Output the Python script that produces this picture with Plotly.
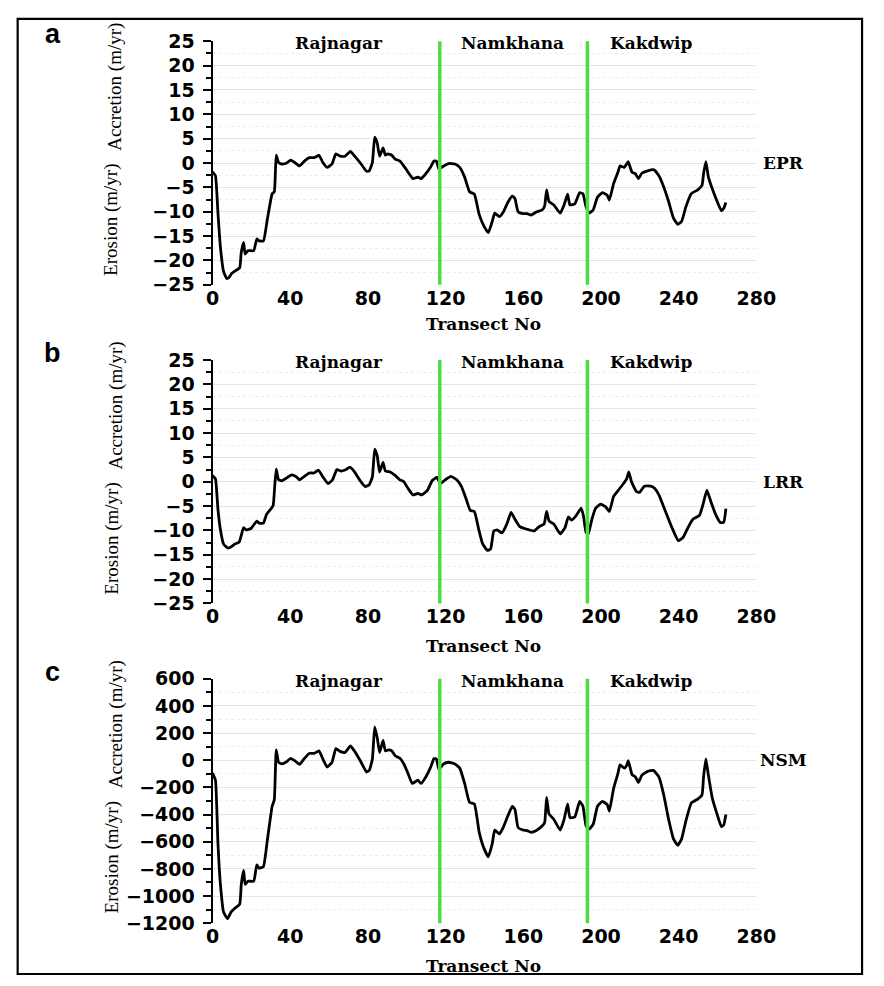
import plotly.graph_objects as go

# ---------------- data ----------------
epr_x = [0, 1.5, 2.8, 4, 5.7, 7.3, 8.5, 9.8, 12.3, 14, 14.8, 16, 16.8, 18.2, 21.2, 22.8, 24, 26.2, 28.2,
         30.7, 31.8, 32.8, 34, 35.7, 38.2, 40.2, 42.3, 44.8, 47.3, 49.8, 52.3, 54.8, 56.8, 59, 61.5, 63.5,
         65.7, 68.2, 71, 73.2, 76.5, 79.3, 80.7, 82.3, 83.5, 84.8, 86, 87.8, 89, 90.2, 92.3, 94, 96.5, 99,
         100.7, 103.2, 105.7, 107.3, 109.8, 112.3, 114, 115.3, 116.5, 119, 121.5, 124.8, 127.3, 129.8,
         132.3, 134.8, 137.3, 139.8, 142, 144, 145.3, 147.7, 149.8, 152, 154.3, 155.7, 157.3, 159.8, 162,
         164, 166.5, 169.8, 171, 172, 173.2, 175.7, 179, 181, 182.8, 184, 186.5, 189, 190.7, 192.3, 194,
         196, 198.2, 200.7, 203.2, 204.3, 206.5, 208.7, 209.8, 212, 213.2, 214, 214.8, 216, 217.7, 219.3,
         221, 224, 227.3, 229.8, 232.3, 234.8, 237.3, 239.5, 241.5, 243.7, 246.5, 249.8, 252, 252.8, 254,
         255.3, 257.3, 259.8, 262, 263.2, 264.3]
epr_y = [-1.8, -2.6, -10.3, -17, -22.3, -23.7, -23.5, -22.7, -22, -21.5, -18.3, -16.3, -18.7, -18, -18,
         -15.6, -16, -16, -11.6, -6.3, -5.9, 1.6, 0.1, -0.2, 0, 0.6, 0.1, -0.6, 0.4, 1.1, 1.1, 1.6, 0.1,
         -0.9, -0.2, 1.9, 1.4, 1.4, 2.4, 1.4, -0.2, -1.7, -1.6, 0.1, 5.3, 4.1, 1.4, 3.1, 1.6, 1.9, 1.6, 0.8,
         0.4, -0.9, -1.9, -3.2, -2.9, -3.2, -2.2, -0.8, 0.4, 0.4, -1.2, -0.6, -0.1, -0.2, -0.9, -2.9, -5.9,
         -6.4, -10.6, -13, -14.3, -12, -10.3, -11, -10, -8.1, -6.8, -7.3, -10, -10.4, -10.4, -10.7, -10.1,
         -9.6, -8.8, -5.5, -7.9, -8.6, -10.3, -8.6, -6.4, -8.6, -8.4, -6.1, -6.3, -9, -10.3, -9.6, -7, -6.1,
         -6.6, -7.6, -4.2, -1.9, -0.6, -0.9, -0.2, 0.3, -0.6, -1.9, -2.2, -3.2, -2.1, -1.6, -1.4, -2.6,
         -4.9, -7.9, -11.3, -12.6, -12, -9, -6.3, -5.5, -4.6, -2.2, 0.3, -2.9, -5.3, -7.9, -9.8, -9.3, -8.1]

lrr_x = [0, 1.5, 2.8, 4, 5.7, 7.8, 9.5, 11.5, 13.7, 14.8, 16, 17.3, 19.8, 21.5, 22.8, 24, 26.2, 27.8,
         29.8, 31.2, 32, 32.8, 34, 35.7, 38.2, 40.7, 43.2, 44.8, 47.3, 49.8, 52.3, 54.5, 56.8, 59.5, 61.8,
         64, 66.2, 68.2, 70.7, 73.2, 75.7, 78.7, 80.7, 82.3, 83.5, 84.8, 86, 87.8, 89, 91.5, 94, 96.5, 98.5,
         100.7, 103.2, 105.7, 107.8, 110.7, 113.2, 115.5, 117.3, 119.8, 122.7, 125.7, 128.2, 130.7, 132.7,
         134.8, 137, 139, 141.5, 143.2, 144.8, 146.5, 149, 151.5, 153.7, 155.7, 158.2, 161.5, 165.7, 168.2,
         170.7, 172, 173.3, 175.7, 179, 181.5, 183.2, 184.8, 187.3, 189.8, 191, 192.3, 193.5, 195.3, 197.3,
         199.8, 202.3, 204.3, 206.5, 209, 211.5, 213.2, 214.3, 215.7, 218.2, 219.8, 222.3, 225.7, 227.7,
         229.8, 233.2, 236.5, 239.8, 242.3, 244.8, 247.3, 250.7, 252.7, 254.5, 256.5, 259, 261.5, 263.2,
         264.3]
lrr_y = [1.3, 0.6, -5.7, -9.7, -12.8, -13.6, -13.4, -12.8, -12.4, -11, -9.4, -9.9, -9.6, -8.7, -8.1, -8.5,
         -8.5, -6.7, -5.7, -4.9, -1, 2.6, 0.4, 0.2, 0.8, 1.4, 1, 0.4, 1.1, 1.8, 1.8, 2.4, 1, -0.4, 0.4, 2.5,
         2.2, 2.4, 3, 2, 0.4, -1, -0.6, 1, 6.7, 5.3, 2, 4, 2.2, 2, 1.3, 0.4, 0, -1.4, -2.7, -2.4, -2.7, -1.7,
         0.3, 0.9, -0.4, 0.4, 1.1, 0.4, -1, -3.7, -5.9, -6.1, -9.7, -12.7, -14.1, -13.8, -10.1, -9.9, -10.5,
         -8.7, -6.3, -7.7, -9.2, -9.7, -10.1, -9.2, -8.7, -6.1, -8.1, -8.7, -10.7, -9.4, -7.2, -7.9, -6.9,
         -5.4, -7.1, -10.4, -10.7, -7.7, -5.4, -4.6, -5.1, -6.1, -3, -1.7, -0.4, 0.6, 2, 0, -2, -2.2, -0.9,
         -0.9, -1.4, -2.7, -6.1, -9.4, -12.1, -11.4, -9.4, -7.7, -6.9, -4.4, -1.7, -4, -6.7, -8.4, -8.3, -5.5]

nsm_x = [0, 1.5, 2.8, 4, 5.7, 7.8, 9.5, 11.5, 14, 14.8, 16, 16.8, 18.2, 21.2, 22.8, 24, 26.2, 28.2, 30.7,
         31.8, 32.8, 34, 35.7, 38.2, 40.2, 42.3, 44.8, 47.3, 49.8, 52.3, 54.8, 56.8, 59, 61.5, 63.5, 65.7,
         68.2, 71, 73.2, 76.5, 79.3, 80.7, 82.3, 83.5, 84.8, 86, 87.8, 89, 90.7, 92.3, 94, 96.5, 98.5, 100.7,
         102.8, 105.7, 107.3, 109.8, 112.3, 114, 115.3, 116.5, 119, 121.5, 124.8, 127.3, 129.8, 132.3,
         134.8, 137.3, 139.8, 142, 144, 145.3, 147.7, 149.8, 152, 154.3, 155.7, 157.3, 159.8, 162, 164,
         166.5, 169.8, 171, 172, 173.2, 175.7, 179, 181, 182.8, 184, 186.5, 189, 190.7, 192.3, 194, 196,
         198.2, 200.7, 203.2, 204.3, 206.5, 208.7, 209.8, 212, 213.2, 214, 214.8, 216, 217.7, 219.3, 221,
         224, 227, 229.8, 232.3, 234.8, 237.3, 239.5, 241.5, 243.7, 246.5, 249.8, 252, 252.8, 254, 255.3,
         257.3, 259.8, 262, 263.2, 264.3]
nsm_y = [-95, -147, -615, -903, -1119, -1167, -1119, -1090, -1059, -915, -811, -915, -891, -891, -771,
         -795, -783, -591, -339, -291, 77, -15, -27, -10, 14, -3, -31, 14, 50, 50, 69, 9, -50, -15, 86, 65,
         57, 105, 65, -15, -87, -75, 9, 245, 165, 57, 146, 69, 77, 69, 33, 14, -27, -99, -171, -147, -171,
         -123, -51, 12, 8, -67, -27, -15, -27, -58, -171, -310, -322, -531, -651, -711, -615, -514, -543,
         -490, -411, -339, -363, -495, -514, -519, -531, -519, -483, -459, -274, -394, -435, -514, -435,
         -322, -423, -418, -303, -339, -483, -507, -471, -339, -303, -327, -375, -207, -99, -34, -58, -39,
         -3, -43, -106, -123, -163, -111, -82, -75, -123, -255, -435, -579, -627, -579, -447, -315, -286,
         -255, -123, 9, -111, -279, -399, -490, -476, -399]

x_ticks = [0, 40, 80, 120, 160, 200, 240, 280]
rate_ticks = [-25, -20, -15, -10, -5, 0, 5, 10, 15, 20, 25]
nsm_ticks = [-1200, -1000, -800, -600, -400, -200, 0, 200, 400, 600]
boundaries = [117, 193]
regions = ["Rajnagar", "Namkhana", "Kakdwip"]
region_x = [65, 154.5, 226]
methods = ["EPR", "LRR", "NSM"]
panel_letters = ["a", "b", "c"]

# ---------------- layout helpers ----------------
W, H = 884, 986
def px(x):
    return x / W
def py(y):
    return 1 - y / H

panel_top = [31, 357, 683]
panel_bot = [280, 606, 933]
title_off = [40, 44, 44]
x_dom = [px(212), px(773)]

series = [(epr_x, epr_y), (lrr_x, lrr_y), (nsm_x, nsm_y)]
yranges = [[-25, 25], [-25, 25], [-1200, 600]]
yticks = [rate_ticks, rate_ticks, nsm_ticks]
minor_d = [2.5, 2.5, 100]

fig = go.Figure()
tick_font = dict(family="DejaVu Sans", size=19, color="black", weight="bold")
serif_bold = dict(family="DejaVu Serif", size=17, color="black", weight="bold")
ytitle_font = dict(family="Liberation Serif", size=19, color="black")

annotations = []
shapes = []
for i in range(3):
    sx = "" if i == 0 else str(i + 1)
    xa, ya = "x" + sx, "y" + sx
    xs, ys = series[i]
    fig.add_trace(go.Scatter(x=xs, y=ys, mode="lines", xaxis=xa, yaxis=ya,
                             line=dict(color="black", width=2.8, shape="spline",
                                       smoothing=0.4),
                             showlegend=False, hoverinfo="skip"))
    fig.layout["xaxis" + sx] = dict(
        domain=x_dom, anchor=ya, range=[0, 280], tickvals=x_ticks, ticks="",
        showline=False, showgrid=False, zeroline=False, tickfont=tick_font,
        ticklabelstandoff=0)
    fig.layout["yaxis" + sx] = dict(
        domain=[py(panel_bot[i]), py(panel_top[i])], anchor=xa, range=yranges[i],
        tickvals=yticks[i], ticks="outside", ticklen=8, tickwidth=2, tickcolor="black",
        showline=True, linecolor="black", linewidth=2, zeroline=False,
        showgrid=True, gridcolor="#e4e4e4", gridwidth=1, tickfont=tick_font,
        ticklabelstandoff=4,
        minor=dict(dtick=minor_d[i], ticks="outside", ticklen=5, tickwidth=1.5,
                   tickcolor="black", showgrid=True, gridcolor="#eeeeee",
                   griddash="dot"))
    for b in boundaries:
        shapes.append(dict(type="line", xref=xa, yref=ya + " domain", x0=b, x1=b,
                           y0=0, y1=1, line=dict(color="#4cdc46", width=3.5), layer="above"))
    for name, rx in zip(regions, region_x):
        annotations.append(dict(text=name, xref=xa, yref="paper", x=rx,
                                y=py(panel_top[i] + 2), showarrow=False,
                                font=serif_bold, xanchor="center", yanchor="middle"))
    annotations.append(dict(text=methods[i], xref="paper", yref=ya, x=px(801), y=0,
                            showarrow=False, font=dict(family="DejaVu Serif", size=17,
                                                       color="black", weight="bold"),
                            xanchor="center", yanchor="middle"))
    annotations.append(dict(text="Transect No", xref="paper", yref="paper", x=px(492),
                            y=py(panel_bot[i] + title_off[i]), showarrow=False,
                            font=dict(family="DejaVu Serif", size=17, color="black",
                                      weight="bold"),
                            xanchor="center", yanchor="middle"))
    annotations.append(dict(text="Accretion (m/yr)", xref="paper", yref="paper",
                            x=px(112), y=py(panel_top[i] + 47), textangle=-90,
                            showarrow=False, font=ytitle_font,
                            xanchor="center", yanchor="middle"))
    annotations.append(dict(text="Erosion (m/yr)", xref="paper", yref="paper",
                            x=px(108), y=py(panel_top[i] + 183), textangle=-90,
                            showarrow=False, font=ytitle_font,
                            xanchor="center", yanchor="middle"))
    annotations.append(dict(text=panel_letters[i], xref="paper", yref="paper",
                            x=px(47), y=py(panel_top[i] - 7), showarrow=False,
                            font=dict(family="Liberation Sans", size=27, color="black",
                                      weight="bold"),
                            xanchor="center", yanchor="middle"))

# figure border
shapes.append(dict(type="rect", xref="paper", yref="paper", x0=px(11), x1=px(882),
                   y0=py(985), y1=py(8), line=dict(color="black", width=2.2),
                   fillcolor="rgba(0,0,0,0)", layer="above"))

fig.update_layout(width=W, height=H, margin=dict(l=0, r=0, t=0, b=0),
                  paper_bgcolor="white", plot_bgcolor="white",
                  annotations=annotations, shapes=shapes)
fig.write_html("out.html")
